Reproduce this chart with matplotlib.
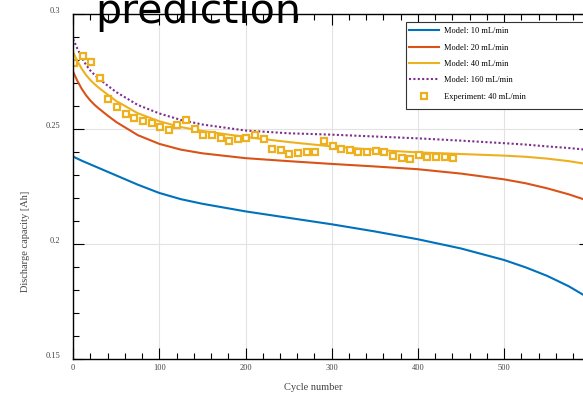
import matplotlib
matplotlib.use('Agg')
import matplotlib.pyplot as plt
from matplotlib.ticker import MultipleLocator
from matplotlib.transforms import ScaledTranslation
from matplotlib.patches import Rectangle

plt.rcParams['font.family'] = ['Liberation Serif', 'DejaVu Serif']

# model curves
cycles_model = [0, 5, 10, 15, 20, 25, 30, 40, 50, 75, 100, 125, 150, 200, 250, 300, 350,
                400, 450, 500, 525, 550, 575, 600]
model_10 = [0.2380, 0.2371, 0.2362, 0.2354, 0.2346, 0.2338, 0.2330, 0.2314, 0.2298, 0.2258,
            0.2222, 0.2195, 0.2175, 0.2142, 0.2114, 0.2086, 0.2055, 0.2021, 0.1981, 0.1931,
            0.1899, 0.1862, 0.1817, 0.1762]
model_20 = [0.2748, 0.2708, 0.2674, 0.2646, 0.2623, 0.2604, 0.2588, 0.2558, 0.2530, 0.2473,
            0.2435, 0.2410, 0.2394, 0.2373, 0.2360, 0.2348, 0.2337, 0.2325, 0.2306, 0.2281,
            0.2264, 0.2242, 0.2216, 0.2185]
model_40 = [0.2833, 0.2794, 0.2761, 0.2734, 0.2712, 0.2694, 0.2678, 0.2649, 0.2621, 0.2568,
            0.2533, 0.2508, 0.2491, 0.2465, 0.2443, 0.2424, 0.2409, 0.2398, 0.2391, 0.2384,
            0.2379, 0.2371, 0.2360, 0.2345]
model_160 = [0.2890, 0.2848, 0.2810, 0.2778, 0.2753, 0.2734, 0.2718, 0.2688, 0.2660, 0.2604,
             0.2567, 0.2539, 0.2519, 0.2493, 0.2481, 0.2475, 0.2467, 0.2459, 0.2449, 0.2438,
             0.2432, 0.2424, 0.2417, 0.2408]

# experiment at 40 mL/min, every 10 cycles
cycles_exp = list(range(1, 442, 10))
exp_40 = [0.2785, 0.2816, 0.2790, 0.2720, 0.2628, 0.2596, 0.2565, 0.2549, 0.2534, 0.2524,
          0.2507, 0.2495, 0.2516, 0.2539, 0.2500, 0.2472, 0.2472, 0.2462, 0.2449, 0.2456,
          0.2462, 0.2472, 0.2456, 0.2413, 0.2407, 0.2390, 0.2394, 0.2398, 0.2401, 0.2447,
          0.2426, 0.2411, 0.2408, 0.2401, 0.2398, 0.2404, 0.2398, 0.2384, 0.2372, 0.2369,
          0.2385, 0.2379, 0.2379, 0.2379, 0.2374]

labels = ['Model: 10 mL/min', 'Model: 20 mL/min', 'Model: 40 mL/min',
          'Model: 160 mL/min', 'Experiment: 40 mL/min']

W, H = 583, 394
fig = plt.figure(figsize=(W / 100, H / 100), dpi=100)
# axes runs a bit past the right edge of the picture
ax = fig.add_axes([73.1 / W, (H - 359.3) / H, 517.2 / W, 345.6 / H])

ax.plot(cycles_model, model_10, color='#0072BD', lw=1.5, label=labels[0])
ax.plot(cycles_model, model_20, color='#D95319', lw=1.5, label=labels[1])
ax.plot(cycles_model, model_40, color='#EDB120', lw=1.5, label=labels[2])
ax.plot(cycles_model, model_160, color='#7E2F8E', lw=1.5, ls=(0, (1, 1.1)), label=labels[3])
ax.plot(cycles_exp, exp_40, ls='none', marker='s', ms=4.6, mew=1.6,
        mec='#EDB120', mfc='white', label=labels[4])

ax.set_xlim(0, 600)
ax.set_ylim(0.15, 0.3)
ax.xaxis.set_major_locator(MultipleLocator(100))
ax.xaxis.set_minor_locator(MultipleLocator(20))
ax.yaxis.set_minor_locator(MultipleLocator(0.01))
ax.set_yticks([0.15, 0.2, 0.25, 0.3])
ax.set_yticklabels(['0.15', '0.2', '0.25', '0.3'])

ax.grid(True, which='major', color='#e3e3e3', lw=0.8)
ax.set_axisbelow(True)
ax.tick_params(which='both', direction='in', top=True, right=True, width=0.8,
               labelsize=6, labelcolor='#444444')
ax.tick_params(which='major', length=8)
ax.tick_params(which='minor', length=4.3)
ax.tick_params(axis='x', pad=3.2)
ax.tick_params(axis='y', pad=9.4)
for sp in ax.spines.values():
    sp.set_linewidth(1.0)

# y tick labels sit a little above their ticks
for lab in ax.get_yticklabels():
    lab.set_transform(lab.get_transform() + ScaledTranslation(0, 4 / 100, fig.dpi_scale_trans))

ax.set_xlabel('Cycle number', fontsize=7.5, color='#444444')
ax.set_ylabel('Discharge capacity [Ah]', fontsize=7.5, color='#444444')
ax.xaxis.set_label_coords(0.464, -0.068)
ax.yaxis.set_label_coords(-0.083, 0.34)

# legend, box cut by the right edge
leg = fig.legend(loc='upper left', bbox_to_anchor=(406 / W, 0, 184 / W, 1 - 24 / H),
                 fontsize=6, frameon=False, handlelength=3.6, handletextpad=0.56,
                 labelspacing=1.0, borderpad=0.4, borderaxespad=0)
fig.patches.append(Rectangle((406 / W, 1 - 109.3 / H), 184 / W, 87.6 / H,
                             transform=fig.transFigure, facecolor='white',
                             edgecolor='#333333', lw=0.8, zorder=2))
leg.set_zorder(3)

fig.text(95 / W, 1 - 23.5 / H, 'prediction', family='DejaVu Sans', fontsize=29.5,
         ha='left', va='baseline', zorder=5)

fig.savefig('out.png', dpi=100)
